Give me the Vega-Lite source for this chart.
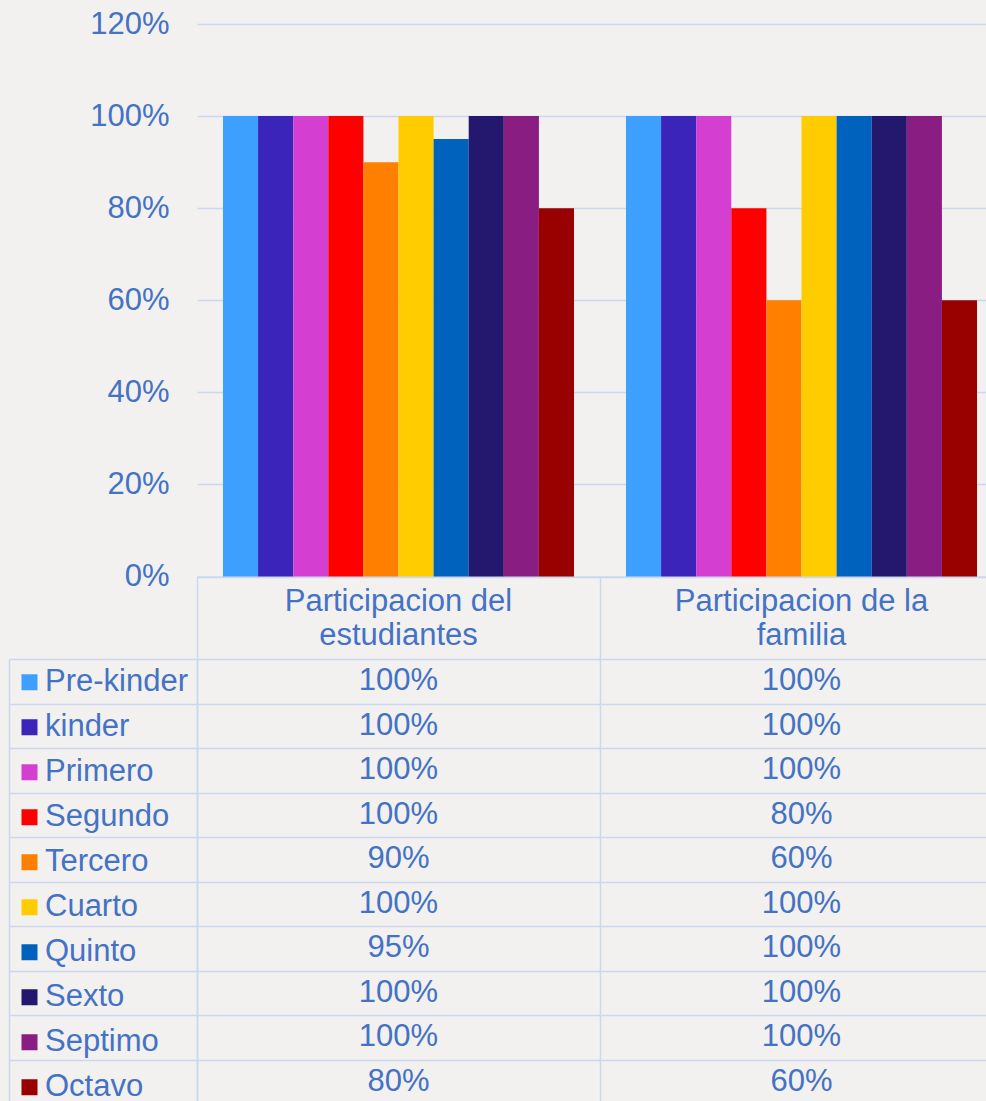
{
  "$schema": "https://vega.github.io/schema/vega-lite/v6.json",
  "background": "#f2f1ef",
  "padding": {"top": 8, "left": 7, "right": 0, "bottom": 0},
  "bounds": "flush",
  "spacing": 82,
  "config": {
    "font": "Liberation Sans",
    "view": {"stroke": "#cbd8ef"},
    "axis": {"labelFont": "Liberation Sans", "labelColor": "#4472c4", "labelFontSize": 31},
    "legend": {"labelFont": "Liberation Sans"}
  },
  "datasets": {
    "t": [
      {"cat": "Participacion del estudiantes", "grade": "Pre-kinder", "value": 1.0},
      {"cat": "Participacion del estudiantes", "grade": "kinder", "value": 1.0},
      {"cat": "Participacion del estudiantes", "grade": "Primero", "value": 1.0},
      {"cat": "Participacion del estudiantes", "grade": "Segundo", "value": 1.0},
      {"cat": "Participacion del estudiantes", "grade": "Tercero", "value": 0.9},
      {"cat": "Participacion del estudiantes", "grade": "Cuarto", "value": 1.0},
      {"cat": "Participacion del estudiantes", "grade": "Quinto", "value": 0.95},
      {"cat": "Participacion del estudiantes", "grade": "Sexto", "value": 1.0},
      {"cat": "Participacion del estudiantes", "grade": "Septimo", "value": 1.0},
      {"cat": "Participacion del estudiantes", "grade": "Octavo", "value": 0.8},
      {"cat": "Participacion de la familia", "grade": "Pre-kinder", "value": 1.0},
      {"cat": "Participacion de la familia", "grade": "kinder", "value": 1.0},
      {"cat": "Participacion de la familia", "grade": "Primero", "value": 1.0},
      {"cat": "Participacion de la familia", "grade": "Segundo", "value": 0.8},
      {"cat": "Participacion de la familia", "grade": "Tercero", "value": 0.6},
      {"cat": "Participacion de la familia", "grade": "Cuarto", "value": 1.0},
      {"cat": "Participacion de la familia", "grade": "Quinto", "value": 1.0},
      {"cat": "Participacion de la familia", "grade": "Sexto", "value": 1.0},
      {"cat": "Participacion de la familia", "grade": "Septimo", "value": 1.0},
      {"cat": "Participacion de la familia", "grade": "Octavo", "value": 0.6}
    ]
  },
  "resolve": {"scale": {"color": "independent"}, "legend": {"color": "independent"}},
  "vconcat": [
    {
      "width": 806,
      "height": 552.5,
      "view": {"stroke": null},
      "data": {"name": "t"},
      "mark": {"type": "bar"},
      "encoding": {
        "x": {
          "field": "cat", "type": "nominal",
          "sort": ["Participacion del estudiantes", "Participacion de la familia"],
          "scale": {"paddingInner": 0, "paddingOuter": 0},
          "axis": {
            "title": null, "orient": "bottom", "labelAngle": 0,
            "domain": true, "domainColor": "#cbd8ef", "domainWidth": 1.5,
            "ticks": true, "bandPosition": 0, "tickSize": 82, "tickColor": "#cbd8ef", "tickWidth": 1.5,
            "labelPadding": -72, "labelBaseline": "top", "labelLineHeight": 34, "labelAlign": "center",
            "labelLimit": 0,
            "labelExpr": "datum.value == 'Participacion del estudiantes' ? ['Participacion del', 'estudiantes'] : ['Participacion de la', 'familia']"
          }
        },
        "xOffset": {
          "field": "grade", "type": "nominal",
          "sort": ["Pre-kinder", "kinder", "Primero", "Segundo", "Tercero", "Cuarto", "Quinto", "Sexto", "Septimo", "Octavo"],
          "scale": {"paddingInner": 0, "paddingOuter": 0.74}
        },
        "y": {
          "field": "value", "type": "quantitative",
          "scale": {"domain": [0, 1.2], "nice": false},
          "axis": {
            "title": null, "values": [0, 0.2, 0.4, 0.6, 0.8, 1.0, 1.2], "format": ".0%",
            "domain": false, "ticks": false, "labelPadding": 28,
            "grid": true, "gridColor": "#cbd8ef", "gridWidth": 1.5
          }
        },
        "color": {
          "field": "grade", "type": "nominal",
          "scale": {
            "domain": ["Pre-kinder", "kinder", "Primero", "Segundo", "Tercero", "Cuarto", "Quinto", "Sexto", "Septimo", "Octavo"],
            "range": ["#3da0ff", "#3a24b9", "#d43fd2", "#ff0000", "#ff8000", "#ffcc00", "#0062bd", "#23176e", "#8a1d82", "#990000"]
          },
          "legend": null
        }
      }
    },
    {
      "width": 806,
      "height": 445,
      "data": {"name": "t"},
      "resolve": {"scale": {"y": "independent"}},
      "layer": [
        {
          "mark": {"type": "text", "fontSize": 31, "font": "Liberation Sans", "color": "#4472c4", "baseline": "middle", "align": "center"},
          "encoding": {
            "x": {
              "field": "cat", "type": "nominal",
              "sort": ["Participacion del estudiantes", "Participacion de la familia"],
              "scale": {"paddingInner": 0, "paddingOuter": 0},
              "axis": {"title": null, "labels": false, "ticks": false, "domain": false, "grid": true, "tickBand": "extent", "gridColor": "#cbd8ef", "gridWidth": 1.5}
            },
            "y": {
              "field": "grade", "type": "nominal",
              "sort": ["Pre-kinder", "kinder", "Primero", "Segundo", "Tercero", "Cuarto", "Quinto", "Sexto", "Septimo", "Octavo"],
              "scale": {"paddingInner": 0, "paddingOuter": 0},
              "axis": {"title": null, "labels": false, "ticks": true, "tickBand": "extent", "tickSize": 188, "tickColor": "#cbd8ef", "tickWidth": 1.5, "domain": true, "domainColor": "#cbd8ef", "domainWidth": 1.5, "grid": true, "gridColor": "#cbd8ef", "gridWidth": 1.5}
            },
            "text": {"field": "value", "type": "quantitative", "format": ".0%"}
          }
        },
        {
          "mark": {"type": "point", "shape": "square", "filled": true, "opacity": 0},
          "encoding": {
            "x": {"field": "cat", "type": "nominal", "sort": ["Participacion del estudiantes", "Participacion de la familia"]},
            "y": {
              "field": "grade", "type": "nominal",
              "sort": ["Pre-kinder", "kinder", "Primero", "Segundo", "Tercero", "Cuarto", "Quinto", "Sexto", "Septimo", "Octavo"],
              "scale": {"paddingInner": 0, "paddingOuter": 0},
              "axis": {"title": null, "orient": "left", "offset": 188, "labels": false, "ticks": false, "grid": false, "domain": true, "domainColor": "#cbd8ef", "domainWidth": 1.5}
            },
            "color": {
              "field": "grade", "type": "nominal",
              "scale": {
                "domain": ["Pre-kinder", "kinder", "Primero", "Segundo", "Tercero", "Cuarto", "Quinto", "Sexto", "Septimo", "Octavo"],
                "range": ["#3da0ff", "#3a24b9", "#d43fd2", "#ff0000", "#ff8000", "#ffcc00", "#0062bd", "#23176e", "#8a1d82", "#990000"]
              },
              "legend": {
                "title": null, "orient": "left", "offset": -181, "padding": 1,
                "symbolType": "square", "symbolSize": 256, "symbolStrokeWidth": 0, "symbolOpacity": 1,
                "labelFontSize": 31, "labelColor": "#4472c4", "labelOffset": 0, "labelLimit": 0,
                "clipHeight": 44.5, "rowPadding": 0
              }
            }
          }
        }
      ]
    }
  ]
}
